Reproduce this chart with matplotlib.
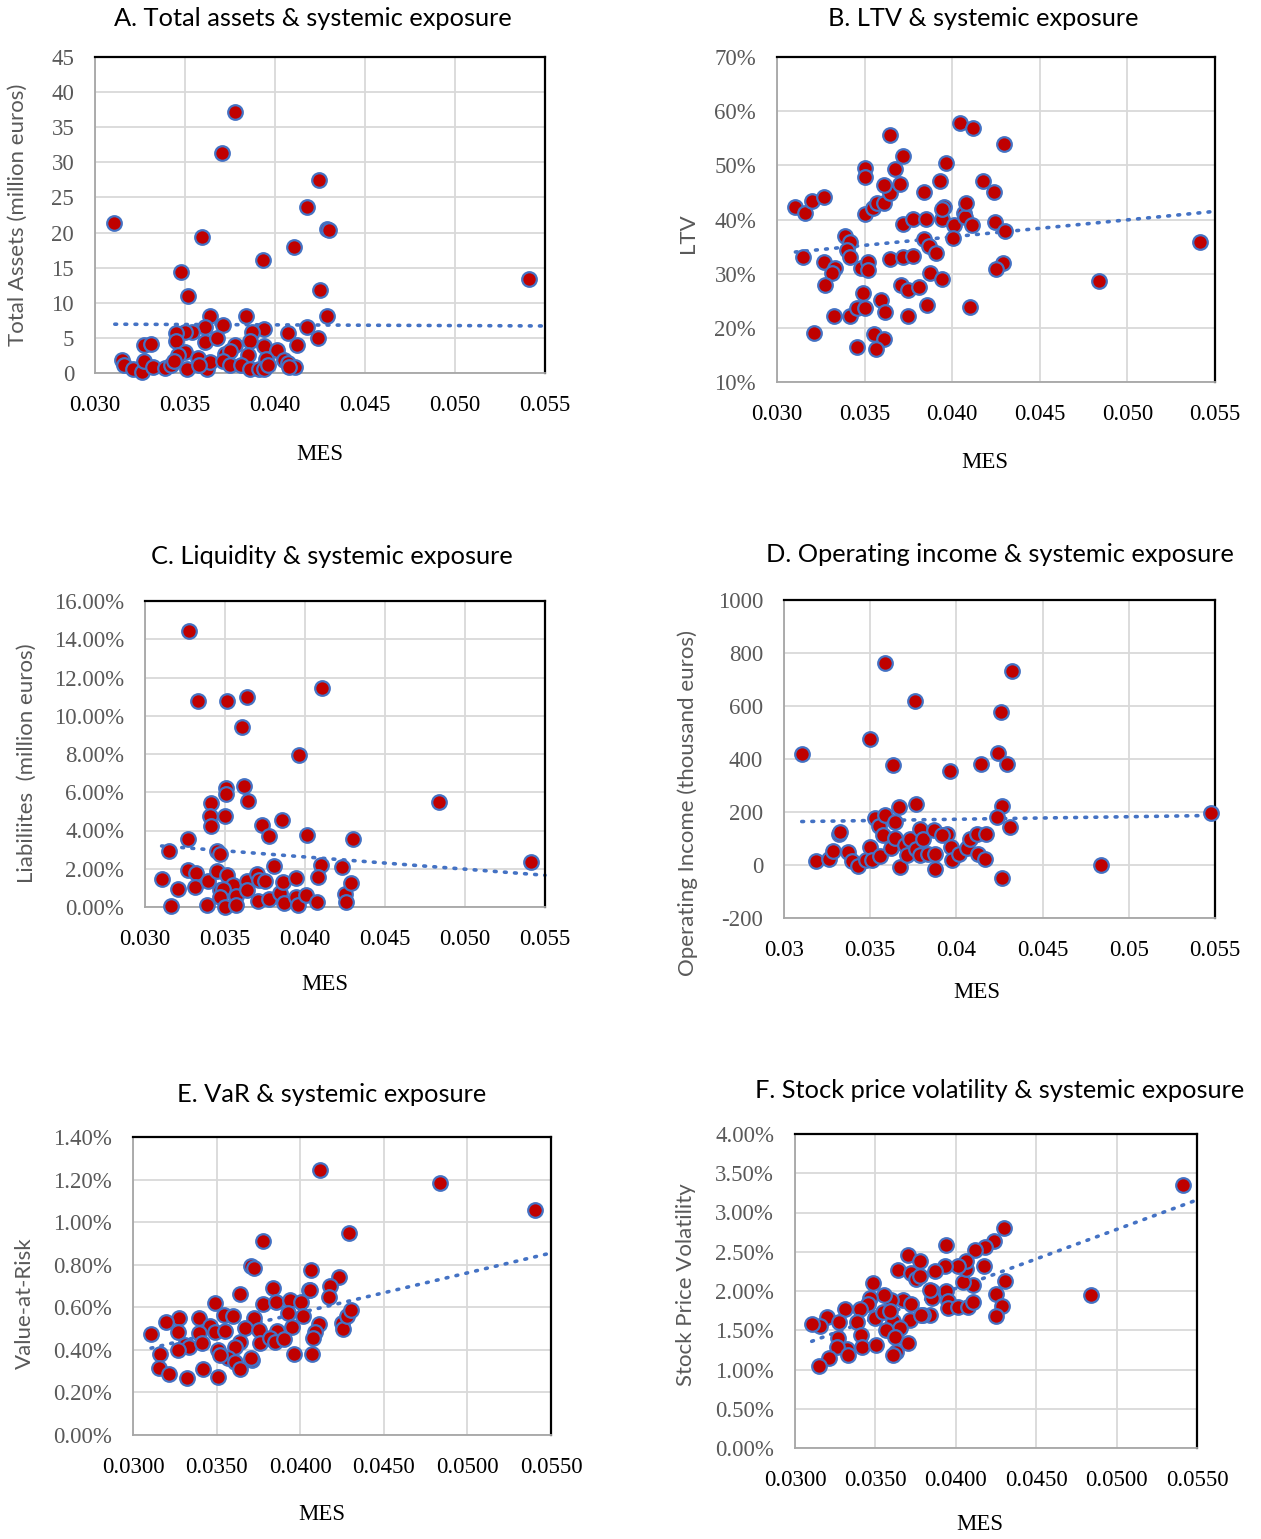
import matplotlib
matplotlib.use("Agg")
import matplotlib.pyplot as plt
from matplotlib.ticker import FuncFormatter

W, H = 1261, 1539

# ---- A. Total assets ----
mes_a = [0.03106, 0.03778, 0.03707, 0.04246, 0.0418, 0.0429, 0.0430, 0.03596, 0.04107, 0.03931,
         0.03476, 0.03515, 0.05413, 0.0425, 0.0429, 0.0364, 0.0384, 0.0371, 0.0418, 0.0424,
         0.0407, 0.0394, 0.0387, 0.0361, 0.0354, 0.0350, 0.0345, 0.0345, 0.0361, 0.0368,
         0.0386, 0.0327, 0.0331, 0.0412, 0.0394, 0.0378, 0.0401, 0.0350, 0.0346, 0.0357,
         0.0372, 0.0375, 0.0385, 0.0395, 0.0405, 0.0407, 0.0411, 0.0315, 0.0316, 0.0321,
         0.0326, 0.0327, 0.0332, 0.0339, 0.0342, 0.0351, 0.0362, 0.0364, 0.0371, 0.0375,
         0.0381, 0.0386, 0.0391, 0.0394, 0.0396, 0.0408, 0.0358, 0.0344]
assets_a = [21.3, 37.2, 31.4, 27.5, 23.6, 20.5, 20.4, 19.4, 18.0, 16.1,
            14.4, 10.9, 13.4, 11.8, 8.05, 8.05, 8.1, 6.9, 6.6, 5.0,
            5.7, 6.3, 5.9, 6.6, 5.9, 5.9, 5.7, 4.5, 4.4, 5.0,
            4.6, 4.0, 4.1, 4.0, 3.8, 4.0, 3.3, 3.0, 2.6, 2.1,
            2.7, 3.1, 2.5, 2.0, 1.8, 1.4, 0.9, 1.9, 1.2, 0.5,
            0.2, 1.7, 0.9, 0.7, 1.2, 0.6, 0.5, 1.6, 1.7, 1.2,
            1.2, 0.5, 0.6, 0.5, 1.2, 0.9, 1.2, 1.7]
trend_a_x = [0.0311, 0.055]
trend_a_y = [6.95, 6.7]

# ---- B. LTV ----
mes_b = [0.03105, 0.03162, 0.0320, 0.03266, 0.0315, 0.03266, 0.03333, 0.03314, 0.03276, 0.03209,
         0.03323, 0.03414, 0.03456, 0.03504, 0.0349, 0.03456, 0.03551, 0.03608, 0.03563, 0.03595,
         0.03618, 0.0339, 0.03418, 0.03399, 0.03414, 0.03479, 0.03517, 0.03517, 0.03504, 0.03548,
         0.0357, 0.03608, 0.03643, 0.03608, 0.03703, 0.03675, 0.03722, 0.03643, 0.03504, 0.035,
         0.03646, 0.03722, 0.03776, 0.03719, 0.03776, 0.03852, 0.03837, 0.03932, 0.03966, 0.0384,
         0.03865, 0.03907, 0.03875, 0.03943, 0.03707, 0.0375, 0.03812, 0.03859, 0.03747, 0.03941,
         0.03951, 0.03941, 0.04013, 0.04004, 0.0407, 0.04074, 0.0408, 0.04112, 0.04046, 0.04118,
         0.04175, 0.04236, 0.04297, 0.04245, 0.04302, 0.04289, 0.04251, 0.04099, 0.0484, 0.05415]
ltv_b = [42.4, 41.2, 43.5, 44.1, 33.0, 32.1, 31.0, 30.1, 27.9, 19.1,
         22.2, 22.2, 23.6, 23.6, 26.4, 16.4, 18.9, 17.9, 16.1, 25.1,
         23.0, 36.9, 35.9, 34.4, 33.0, 31.0, 32.2, 30.7, 41.0, 42.1,
         43.0, 43.0, 44.9, 46.3, 46.6, 49.3, 51.8, 55.6, 49.5, 47.9,
         32.8, 33.0, 33.3, 39.2, 40.1, 40.1, 45.0, 47.1, 50.5, 36.4,
         35.1, 33.9, 30.1, 29.0, 27.9, 27.0, 27.5, 24.3, 22.2, 40.1,
         42.4, 41.9, 38.9, 36.5, 41.2, 40.4, 43.1, 38.9, 57.8, 56.9,
         47.1, 45.0, 54.0, 39.5, 37.8, 31.9, 30.9, 23.9, 28.7, 35.8]
trend_b_x = [0.03105, 0.055]
trend_b_y = [34.0, 41.5]

# ---- C. Liquidity ----
mes_c = [0.03277, 0.03329, 0.03515, 0.0364, 0.04106, 0.03606, 0.03965, 0.03621, 0.03506, 0.03506,
         0.03642, 0.03413, 0.03406, 0.0341, 0.035, 0.03729, 0.03854, 0.03777, 0.0401, 0.04298,
         0.0484, 0.0541, 0.03267, 0.03152, 0.03452, 0.03469, 0.04098, 0.04233, 0.03806, 0.03104,
         0.03204, 0.0316, 0.03267, 0.03319, 0.03313, 0.03392, 0.03452, 0.03515, 0.03552, 0.03469,
         0.0349, 0.03469, 0.03385, 0.035, 0.03567, 0.03569, 0.03635, 0.0364, 0.03702, 0.03715,
         0.0375, 0.03708, 0.03777, 0.03844, 0.0386, 0.03871, 0.03942, 0.03942, 0.03958, 0.04006,
         0.04073, 0.0408, 0.0425, 0.04256, 0.04288]
liab_c = [14.45, 10.77, 10.77, 11.0, 11.47, 9.42, 7.94, 6.32, 6.2, 5.93,
          5.53, 5.46, 4.76, 4.24, 4.76, 4.28, 4.54, 3.72, 3.79, 3.54,
          5.5, 2.36, 3.58, 2.91, 2.91, 2.79, 2.22, 2.09, 2.15, 1.48,
          0.96, 0.05, 1.95, 1.78, 1.05, 1.36, 1.87, 1.66, 1.13, 0.87,
          0.96, 0.52, 0.09, 0.0, 0.58, 0.12, 1.36, 0.87, 1.71, 1.4,
          1.36, 0.3, 0.44, 0.73, 1.31, 0.23, 1.52, 0.52, 0.09, 0.61,
          0.26, 1.57, 0.7, 0.26, 1.27]
trend_c_x = [0.03104, 0.055]
trend_c_y = [3.19, 1.66]

# ---- D. Operating income ----
mes_d = [0.03103, 0.03588, 0.03761, 0.04322, 0.04258, 0.03501, 0.03635, 0.03964, 0.04144, 0.04239,
         0.04293, 0.03668, 0.03766, 0.04266, 0.04235, 0.04312, 0.05478, 0.04839, 0.04264, 0.03186,
         0.03263, 0.03283, 0.03321, 0.03325, 0.0337, 0.03393, 0.03428, 0.03476, 0.03496, 0.0351,
         0.03525, 0.03552, 0.03583, 0.03577, 0.03554, 0.03621, 0.03645, 0.03645, 0.03674, 0.03703,
         0.03732, 0.03712, 0.03766, 0.03786, 0.03805, 0.0379, 0.03834, 0.03871, 0.03873, 0.03877,
         0.03945, 0.03968, 0.03974, 0.04016, 0.04061, 0.0408, 0.04119, 0.04173, 0.04125, 0.04163,
         0.03916]
income_d = [417, 762, 619, 731, 579, 475, 378, 355, 380, 424,
            383, 218, 230, 223, 180, 142, 196, -1, -49, 14,
            23, 51, 117, 124, 48, 14, -5, 20, 68, 18,
            177, 149, 190, 112, 33, 64, 161, 102, -8, 77,
            98, 36, 62, 136, 98, 36, 41, 133, -15, 41,
            117, 68, 18, 41, 64, 98, 117, 118, 41, 24,
            114]
trend_d_x = [0.03103, 0.055]
trend_d_y = [164, 187]

# ---- E. VaR ----
mes_e = [0.04116, 0.04837, 0.05405, 0.04289, 0.03777, 0.03707, 0.03721, 0.04066, 0.04233, 0.0418,
         0.0405, 0.0406, 0.04175, 0.03837, 0.03641, 0.03777, 0.03855, 0.0394, 0.04004, 0.03488,
         0.03542, 0.03596, 0.03392, 0.03277, 0.03199, 0.03108, 0.03269, 0.03462, 0.03392, 0.03492,
         0.03548, 0.03721, 0.03671, 0.03751, 0.03861, 0.0393, 0.0395, 0.04014, 0.0411, 0.0409,
         0.04076, 0.0425, 0.04255, 0.0428, 0.04303, 0.03313, 0.03333, 0.03269, 0.03412, 0.03506,
         0.03641, 0.03612, 0.03757, 0.03821, 0.03851, 0.03904, 0.03163, 0.03568, 0.03612, 0.03711,
         0.03705, 0.03518, 0.0396, 0.0407, 0.03153, 0.03213, 0.03323, 0.03418, 0.03506, 0.03637]
var_e = [1.243, 1.186, 1.058, 0.951, 0.912, 0.792, 0.784, 0.776, 0.741, 0.701,
         0.682, 0.679, 0.647, 0.690, 0.661, 0.614, 0.627, 0.635, 0.627, 0.619,
         0.564, 0.560, 0.549, 0.549, 0.533, 0.473, 0.486, 0.514, 0.478, 0.486,
         0.489, 0.549, 0.502, 0.494, 0.489, 0.572, 0.509, 0.561, 0.522, 0.486,
         0.455, 0.525, 0.497, 0.561, 0.588, 0.423, 0.415, 0.400, 0.431, 0.400,
         0.439, 0.415, 0.431, 0.455, 0.436, 0.450, 0.381, 0.360, 0.345, 0.353,
         0.360, 0.376, 0.381, 0.381, 0.313, 0.287, 0.266, 0.309, 0.274, 0.310]
trend_e_x = [0.03108, 0.055]
trend_e_y = [0.408, 0.855]

# ---- F. Stock price volatility ----
mes_f = [0.05412, 0.04839, 0.04298, 0.04236, 0.0418, 0.04118, 0.03938, 0.04174, 0.04304, 0.04248,
         0.04288, 0.04253, 0.04104, 0.04046, 0.04066, 0.04062, 0.04014, 0.03933, 0.0387, 0.0370,
         0.03776, 0.03642, 0.03724, 0.03752, 0.03776, 0.03487, 0.03942, 0.03849, 0.03849, 0.03952,
         0.03952, 0.04014, 0.04077, 0.04108, 0.03839, 0.03797, 0.03714, 0.03673, 0.03724, 0.03594,
         0.03553, 0.03466, 0.03452, 0.03404, 0.03311, 0.03197, 0.03275, 0.03155, 0.03104, 0.03383,
         0.03497, 0.03545, 0.0361, 0.03652, 0.03565, 0.03408, 0.03269, 0.03321, 0.03259, 0.03331,
         0.03414, 0.03503, 0.03621, 0.03704, 0.03631, 0.03607, 0.03213, 0.03151, 0.0359, 0.03839,
         0.03781]
vol_f = [3.355, 1.945, 2.803, 2.633, 2.556, 2.518, 2.582, 2.314, 2.132, 1.962,
         1.813, 1.677, 2.081, 2.111, 2.280, 2.387, 2.314, 2.314, 2.259, 2.454,
         2.387, 2.263, 2.229, 2.157, 2.187, 2.098, 1.996, 1.996, 1.911, 1.868,
         1.783, 1.792, 1.796, 1.856, 1.699, 1.690, 1.626, 1.881, 1.839, 1.881,
         1.945, 1.911, 1.839, 1.771, 1.771, 1.665, 1.601, 1.550, 1.580, 1.601,
         1.656, 1.733, 1.614, 1.529, 1.507, 1.444, 1.401, 1.265, 1.282, 1.189,
         1.282, 1.316, 1.414, 1.338, 1.219, 1.180, 1.146, 1.040, 1.741, 2.009,
         1.699]
trend_f_x = [0.03104, 0.055]
trend_f_y = [1.359, 3.16]

RED = "#C00000"
BLUE = "#4472C4"
GRID = "#D9D9D9"
GREY_TXT = "#595959"
SERIF = "Liberation Serif"
SANS = "Lato"

fig = plt.figure(figsize=(W / 100, H / 100), dpi=100)


def make_panel(box, x, y, tx, ty, xlim, ylim, xticks, yticks, xfmt, yfmt,
               title, title_pos, ylabel, ylabel_pos, mes_pos):
    x0, y0, x1, y1 = box
    ax = fig.add_axes([x0 / W, 1 - y1 / H, (x1 - x0) / W, (y1 - y0) / H])
    ax.set_xlim(*xlim)
    ax.set_ylim(*ylim)
    ax.set_xticks(xticks)
    ax.set_yticks(yticks)
    ax.xaxis.set_major_formatter(FuncFormatter(xfmt))
    ax.yaxis.set_major_formatter(FuncFormatter(yfmt))
    ax.grid(True, color=GRID, linewidth=1.3)
    ax.set_axisbelow(True)
    for s in ["top", "right"]:
        ax.spines[s].set_color("black")
        ax.spines[s].set_linewidth(1.6)
    for s in ["left", "bottom"]:
        ax.spines[s].set_color("#A6A6A6")
        ax.spines[s].set_linewidth(1.3)
    ax.tick_params(length=0, labelfontfamily=SERIF)
    ax.tick_params(axis="x", pad=16, labelsize=16.5, labelcolor="black")
    ax.tick_params(axis="y", pad=15, labelsize=16.5, labelcolor=GREY_TXT)
    ax.plot(tx, ty, linestyle=(0, (0.5, 2.3)), color=BLUE, linewidth=2.6,
            dash_capstyle="round", zorder=2, clip_on=False)
    ax.plot(x, y, "o", markersize=10.5, markerfacecolor=RED, markeredgecolor=BLUE,
            markeredgewidth=1.6, linestyle="none", zorder=3, clip_on=False)
    fig.text(title_pos[0] / W, 1 - title_pos[1] / H, title, ha="center", va="center",
             fontsize=18.3, family=SANS, color="black")
    fig.text(ylabel_pos[0] / W, 1 - ylabel_pos[1] / H, ylabel, ha="center", va="center",
             rotation=90, fontsize=16, family=SANS, color=GREY_TXT)
    fig.text(mes_pos[0] / W, 1 - mes_pos[1] / H, "MES", ha="center", va="center",
             fontsize=16.5, family=SERIF, color="black")
    return ax


mes_ticks = [0.030, 0.035, 0.040, 0.045, 0.050, 0.055]

make_panel((95, 57, 545, 373), mes_a, assets_a, trend_a_x, trend_a_y,
           (0.030, 0.055), (0, 45), mes_ticks, list(range(0, 50, 5)),
           lambda v, p: f"{v:.3f}", lambda v, p: f"{v:.0f}",
           "A. Total assets & systemic exposure", (313, 18),
           "Total Assets (million euros)", (18, 215), (320, 455))

make_panel((777, 57, 1215, 382), mes_b, ltv_b, trend_b_x, trend_b_y,
           (0.030, 0.055), (10, 70), mes_ticks, list(range(10, 80, 10)),
           lambda v, p: f"{v:.3f}", lambda v, p: f"{v:.0f}%",
           "B. LTV & systemic exposure", (983, 18),
           "LTV", (688, 233), (985, 462))

make_panel((145, 601, 545, 907), mes_c, liab_c, trend_c_x, trend_c_y,
           (0.030, 0.055), (0, 16), mes_ticks, list(range(0, 18, 2)),
           lambda v, p: f"{v:.3f}", lambda v, p: f"{v:.2f}%",
           "C. Liquidity & systemic exposure", (332, 557),
           "Liabiliites  (million euros)", (27, 763), (325, 985))

make_panel((784, 600, 1215, 918), mes_d, income_d, trend_d_x, trend_d_y,
           (0.030, 0.055), (-200, 1000), mes_ticks, list(range(-200, 1200, 200)),
           lambda v, p: f"{v:g}", lambda v, p: f"{v:.0f}",
           "D. Operating income & systemic exposure", (1000, 554),
           "Operating Income (thousand euros)", (688, 803), (977, 993))

make_panel((133, 1137, 551, 1435), mes_e, var_e, trend_e_x, trend_e_y,
           (0.030, 0.055), (0, 1.4), mes_ticks, [i * 0.2 for i in range(8)],
           lambda v, p: f"{v:.4f}", lambda v, p: f"{v:.2f}%",
           "E. VaR & systemic exposure", (332, 1094),
           "Value-at-Risk", (25, 1303), (322, 1515))

make_panel((795, 1134, 1197, 1448), mes_f, vol_f, trend_f_x, trend_f_y,
           (0.030, 0.055), (0, 4.0), mes_ticks, [i * 0.5 for i in range(9)],
           lambda v, p: f"{v:.4f}", lambda v, p: f"{v:.2f}%",
           "F. Stock price volatility & systemic exposure", (1000, 1090),
           "Stock Price Volatility", (686, 1285), (980, 1525))

fig.savefig("out.png", dpi=100)
